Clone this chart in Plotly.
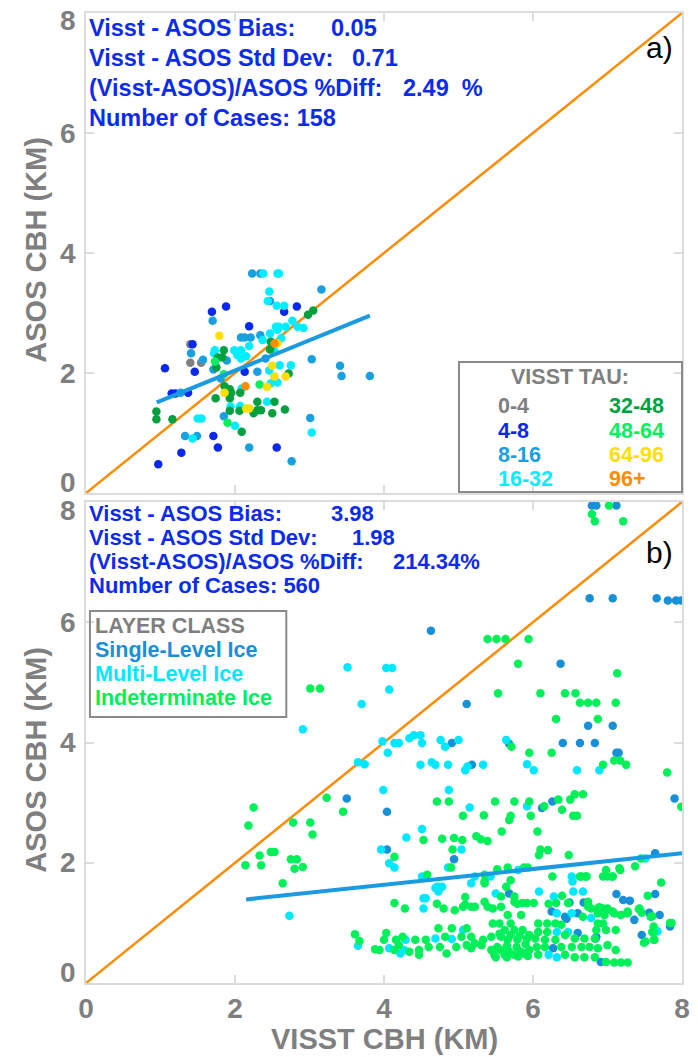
import plotly.graph_objects as go

# ---------------- Panel a data (VISST TAU classes) ----------------
tau_labels = ["0-4", "4-8", "8-16", "16-32", "32-48", "48-64", "64-96", "96+"]
tau_colors = ["#808080", "#0A28EE", "#18A0E0", "#00EEFF", "#00A040", "#00F060", "#FFDF00", "#FF8C00"]

a_x_0_4 = [1.40, 1.40, 1.545]
a_y_0_4 = [2.48, 2.17, 2.17]
a_x_4_8 = [2.66, 2.83, 1.88, 1.69, 2.19, 1.43, 1.46, 1.06, 2.13, 1.15, 1.20, 1.37, 1.71, 1.77, 1.28, 0.97, 2.56]
a_y_4_8 = [3.02, 3.11, 3.11, 3.02, 2.78, 2.48, 2.02, 2.08, 2.02, 1.66, 1.66, 1.67, 0.95, 0.76, 0.67, 0.48, 0.76]
a_x_8_16 = [2.23, 2.34, 3.16, 2.47, 1.70, 2.08, 2.13, 2.21, 2.34, 1.41, 1.57, 2.41, 1.71, 1.89, 1.81, 2.30,
            1.27, 1.85, 1.33, 1.49, 2.19, 2.76, 3.01, 3.03, 3.41, 3.43, 3.81]
a_y_8_16 = [3.66, 3.66, 3.39, 3.20, 2.87, 2.59, 2.59, 2.59, 2.63, 2.33, 2.22, 2.24, 2.06, 2.21, 1.91, 2.02,
            1.67, 1.28, 0.95, 0.95, 0.76, 0.53, 1.25, 2.23, 2.12, 1.95, 1.95]
a_x_16_32 = [2.38, 2.57, 2.59, 2.46, 2.44, 2.56, 2.66, 2.47, 2.55, 2.59, 2.68, 2.77, 2.84, 2.92, 2.57, 2.62,
             2.37, 2.53, 2.19, 1.99, 2.08, 2.03, 2.08, 2.15, 1.73, 1.72, 2.60, 2.75, 2.46, 2.57, 2.48, 2.09,
             2.43, 1.94, 2.07, 1.50, 1.55, 2.00, 1.43, 3.03]
a_y_16_32 = [3.66, 3.66, 3.66, 3.36, 3.20, 3.12, 3.12, 2.66, 2.77, 2.77, 2.77, 2.87, 2.77, 2.75, 2.72, 2.58,
             2.55, 2.36, 2.45, 2.38, 2.38, 2.30, 2.24, 2.28, 2.38, 2.33, 2.13, 2.13, 2.04, 1.84, 1.83, 1.74,
             1.52, 1.44, 1.45, 1.24, 1.24, 1.12, 0.91, 1.01]
a_x_32_48 = [2.98, 3.05, 2.48, 2.47, 1.85, 1.83, 1.77, 1.75, 2.72, 1.86, 1.93, 1.95, 2.07, 1.74, 1.93, 2.30,
             2.53, 1.93, 2.06, 2.30, 2.35, 2.25, 2.50, 2.67, 0.945, 0.945, 1.16, 2.09]
a_y_32_48 = [2.97, 3.04, 2.52, 2.39, 2.38, 2.26, 2.26, 2.09, 1.99, 1.78, 1.73, 1.67, 1.67, 1.58, 1.58, 1.52,
             1.52, 1.37, 1.37, 1.38, 1.38, 1.33, 1.33, 1.39, 1.36, 1.23, 1.23, 1.02]
a_x_48_64 = [1.73, 1.85, 2.33, 1.90]
a_y_48_64 = [2.19, 1.98, 1.81, 1.17]
a_x_64_96 = [1.79, 2.57, 2.50, 2.53, 2.68, 2.43, 1.86, 2.15, 2.19]
a_y_64_96 = [2.62, 2.49, 2.12, 1.94, 1.94, 1.77, 1.67, 1.41, 1.41]
a_x_96p = [2.53, 2.14]
a_y_96p = [2.49, 1.78]

fit_a_x = [0.95, 3.81]
fit_a_y = [1.51, 2.955]

stats_a_values = ["0.05", "0.71", "2.49  %", "158"]

# ---------------- Panel b data (LAYER CLASS) ----------------
layer_labels = ["Single-Level Ice", "Multi-Level Ice", "Indeterminate Ice"]
layer_colors = ["#1890D8", "#00E8FF", "#00F05A"]

b_x_single = [3.50, 6.79, 6.85, 7.12, 6.76, 7.07, 7.66, 7.81, 7.92, 7.99, 4.63, 6.37, 5.11, 6.74, 7.07,
              4.91, 5.68, 6.40, 6.63, 6.83, 7.12, 7.15, 5.18, 7.90, 4.04,
              6.12, 6.26, 4.04, 4.94, 5.68, 7.64, 6.49, 6.68, 7.12, 7.21, 7.30, 7.64, 7.56, 7.70, 7.84, 7.46,
              6.25, 6.43, 6.60, 7.36, 6.60, 6.85, 6.27, 6.91, 6.84, 6.45]
b_y_single = [3.07, 7.94, 7.94, 7.94, 6.40, 6.40, 6.40, 6.36, 6.36, 6.36, 5.86, 5.31, 4.64, 4.28, 4.28,
              3.99, 3.98, 3.99, 3.99, 3.99, 3.83, 3.83, 3.63, 3.07, 2.85,
              2.91, 3.02, 2.22, 2.06, 1.49, 2.16, 1.34, 1.34, 1.48, 1.38, 1.37, 1.48, 1.17, 1.13, 0.94, 0.80,
              1.19, 1.10, 1.16, 1.05, 0.83, 0.77, 0.58, 0.35, 0.74, 1.07]

b_x_multi = [3.51, 3.70, 2.91, 3.65, 3.74, 2.73, 3.65,
             4.03, 4.11, 4.07, 4.34, 4.40, 4.49,
             3.98, 4.14, 4.20, 4.51, 4.76, 4.82, 5.00, 5.64, 5.92, 6.01, 4.05, 4.49, 4.64, 4.69, 4.86, 5.09,
             5.12, 5.33, 3.99, 4.87, 6.89, 6.59,
             5.15, 5.92, 4.51, 4.30, 5.04, 3.96, 4.07, 4.14, 4.86, 5.80, 7.51, 4.51, 5.22, 5.43, 5.17, 4.73,
             4.69, 4.73, 5.50, 6.08, 6.52, 6.53, 6.54, 6.67, 6.28, 4.53, 4.56, 4.53, 7.67,
             4.71, 4.78, 5.06, 4.29, 4.69, 4.91, 4.07, 4.27, 4.22,
             6.32, 6.52, 6.78, 6.32, 6.47, 6.21, 6.32]
b_y_multi = [5.25, 4.64, 4.22, 3.67, 3.64, 1.12, 0.62,
             5.24, 5.24, 4.88, 4.07, 4.12, 4.12,
             4.02, 3.99, 3.99, 3.99, 4.04, 3.93, 4.04, 4.04, 3.64, 3.54, 3.83, 3.63, 3.67, 3.63, 3.63, 3.54,
             3.60, 3.63, 3.21, 3.21, 3.54, 3.54,
             2.92, 2.94, 2.56, 2.42, 2.22, 2.22, 1.99, 1.92, 1.92, 1.88, 2.07, 1.77, 1.77, 1.77, 1.66, 1.60,
             1.58, 1.52, 1.49, 1.52, 1.77, 1.69, 1.52, 1.52, 1.44, 1.41, 1.41, 1.24, 0.86,
             1.60, 1.60, 0.88, 0.72, 0.74, 0.73, 0.58, 0.55, 0.49,
             1.16, 1.16, 1.08, 0.85, 0.85, 0.47, 0.43]

b_x_indet = [3.01, 3.14, 3.23, 3.45, 2.25, 2.18, 2.78, 3.01, 3.04, 2.33, 2.48, 2.53, 2.75, 2.83, 2.80, 2.91,
             2.14, 2.35, 2.64, 3.61, 3.67, 3.88,
             7.02, 6.79, 6.83, 7.21, 5.39, 5.51, 5.63, 5.94, 5.80, 7.13, 5.53, 6.10, 6.43, 6.57, 6.63, 6.74,
             6.85, 7.11, 6.31, 6.87,
             5.71, 5.95, 6.25, 7.09, 7.17, 7.25, 6.94, 7.80, 7.99,
             4.71, 4.87, 5.06, 5.34, 5.49, 5.75, 5.95, 5.97, 6.15, 6.34, 6.39, 6.50, 6.54, 6.59, 6.56, 6.67,
             5.70, 5.68, 5.58, 6.06, 4.53, 4.78, 4.94, 5.05, 5.24, 5.30, 5.39, 4.92, 6.10, 6.20, 6.08, 6.48,
             4.14, 4.90, 5.52, 5.66, 5.88, 5.93, 7.45, 4.58, 5.35, 5.35, 5.64, 5.70, 5.57, 6.26, 6.63, 6.72,
             6.94, 7.06, 6.98, 7.16, 7.37, 7.54, 7.72, 6.39, 4.14, 4.28, 4.71, 4.80, 4.95, 5.09, 5.22, 5.35,
             5.39, 5.46, 5.57, 5.75, 5.79, 5.92, 6.01, 6.21, 6.31, 6.74, 6.89, 6.98, 7.07, 7.27, 7.43, 7.46,
             7.60, 7.86, 7.62, 7.51, 7.63,
             5.35, 5.09, 5.06, 5.17, 5.75, 5.86,
             5.66, 5.84, 5.46, 5.55, 5.70, 5.62, 5.75, 5.86, 4.73, 4.91, 5.11, 4.82, 4.03, 4.00, 4.16, 4.25,
             4.42, 4.56, 5.04, 5.17, 5.22, 5.33, 5.44, 5.57, 5.66, 5.79, 5.92, 3.94, 4.14, 4.20, 4.34, 4.47,
             4.60, 4.47, 4.75, 4.84, 4.97, 5.11, 5.17, 5.31, 5.44, 5.57, 5.68, 5.84, 5.95, 5.48, 5.62, 5.75,
             5.88,
             6.65, 6.71, 7.00, 7.07, 7.17, 6.47, 6.74, 6.78, 6.87, 6.94, 7.00, 6.67, 6.87, 6.96, 7.09, 7.18,
             7.27, 7.42, 7.58, 7.84, 6.07, 6.19, 6.30, 6.38, 6.87, 6.94, 7.11, 7.62, 7.60, 7.49, 7.62, 6.07,
             6.19, 6.43, 6.56, 6.69, 6.83, 6.85, 6.98, 7.00, 7.11, 6.03, 6.16, 6.30, 6.05, 6.16, 6.38, 6.52,
             6.65, 6.76, 6.87, 6.07, 6.43, 6.56, 6.69, 6.83, 6.98, 7.09, 7.18, 7.27,
             5.52, 5.65, 5.78, 5.90, 5.55, 5.70, 5.82, 5.95, 5.50, 5.65, 5.80, 5.93]
b_y_indet = [4.90, 4.90, 3.08, 2.85, 2.92, 2.62, 2.67, 2.67, 2.47, 2.12, 2.18, 2.18, 2.06, 2.06, 1.90, 1.93,
             1.96, 1.96, 1.66, 0.81, 0.70, 0.56,
             7.94, 7.80, 7.68, 7.68, 5.72, 5.72, 5.72, 5.72, 5.31, 5.15, 4.82, 4.82, 4.82, 4.82, 4.66, 4.66,
             4.66, 4.66, 4.39, 4.39,
             3.93, 3.83, 3.83, 3.70, 3.70, 3.63, 3.63, 3.50, 2.93,
             3.02, 3.02, 2.78, 2.79, 3.02, 3.02, 3.02, 2.78, 2.94, 3.05, 2.88, 3.05, 2.78, 2.78, 3.14, 3.14,
             2.78, 2.71, 2.52, 2.52, 2.38, 2.40, 2.41, 2.38, 2.44, 2.39, 2.36, 2.22, 2.22, 2.21, 2.13, 2.13,
             2.10, 1.92, 1.89, 1.92, 1.92, 1.92, 2.07, 1.80, 1.80, 1.69, 1.60, 1.71, 1.44, 1.77, 1.77, 1.77,
             1.77, 1.77, 1.88, 1.91, 1.94, 1.45, 1.67, 1.45, 1.33, 1.24, 1.32, 1.24, 1.21, 1.30, 1.27, 1.35,
             1.27, 1.24, 1.27, 1.44, 1.32, 1.33, 1.33, 1.32, 1.33, 1.27, 1.26, 1.21, 1.19, 1.19, 1.24, 1.17,
             1.11, 1.00, 0.85, 0.69, 0.72,
             1.66, 1.43, 1.27, 1.27, 1.35, 1.33,
             1.13, 1.13, 0.99, 0.99, 0.99, 0.88, 0.88, 0.88, 0.91, 0.91, 0.91, 0.77, 0.83, 0.72, 0.72, 0.77,
             0.72, 0.72, 0.77, 0.77, 0.66, 0.72, 0.77, 0.77, 0.72, 0.72, 0.74, 0.55, 0.55, 0.63, 0.52, 0.55,
             0.60, 0.47, 0.60, 0.49, 0.60, 0.63, 0.58, 0.63, 0.55, 0.55, 0.52, 0.52, 0.55, 0.47, 0.47, 0.47,
             0.49,
             1.77, 1.77, 1.77, 1.77, 1.88, 1.33, 1.35, 1.24, 1.24, 1.24, 1.24, 1.10, 1.16, 1.13, 1.16, 1.13,
             1.16, 1.23, 1.10, 1.00, 0.99, 0.99, 0.99, 0.97, 0.99, 0.99, 0.88, 0.94, 0.85, 0.67, 0.72, 0.85,
             0.85, 0.80, 0.74, 0.74, 0.74, 0.88, 0.88, 0.63, 0.55, 0.74, 0.72, 0.72, 0.60, 0.60, 0.60, 0.60,
             0.60, 0.60, 0.58, 0.47, 0.47, 0.43, 0.43, 0.43, 0.35, 0.34, 0.34, 0.34,
             0.60, 0.62, 0.60, 0.65, 0.82, 0.80, 0.78, 0.80, 0.43, 0.43, 0.44, 0.45]

fit_b_x = [2.15, 8.0]
fit_b_y = [1.39, 2.16]

stats_b_values = ["3.98", "1.98", "214.34%", "560"]

one_to_one = [0, 8]
tick_vals = [0, 2, 4, 6, 8]
tick_text = ["0", "2", "4", "6", "8"]

# ---------------- Figure ----------------
W, H = 698, 1057
ML, MR, MT, MB = 86, 8, 13, 74
PW, PH = W - ML - MR, H - MT - MB


def px(x):
    return (x - ML) / PW


def py(y):
    return (H - MB - y) / PH


fig = go.Figure()
ORANGE = "#FF8C00"
FITBLUE = "#1A9AE0"
MS = 8.5

# Panel a
fig.add_trace(go.Scatter(x=one_to_one, y=one_to_one, mode="lines", line=dict(color=ORANGE, width=2.5),
                         xaxis="x", yaxis="y", showlegend=False, hoverinfo="skip"))
a_series = [(a_x_0_4, a_y_0_4), (a_x_4_8, a_y_4_8), (a_x_8_16, a_y_8_16), (a_x_16_32, a_y_16_32),
            (a_x_32_48, a_y_32_48), (a_x_48_64, a_y_48_64), (a_x_64_96, a_y_64_96), (a_x_96p, a_y_96p)]
for (xs, ys), lab, col in zip(a_series, tau_labels, tau_colors):
    fig.add_trace(go.Scatter(x=xs, y=ys, mode="markers", name=lab,
                             marker=dict(color=col, size=MS, line=dict(width=0)),
                             xaxis="x", yaxis="y", showlegend=False))
fig.add_trace(go.Scatter(x=fit_a_x, y=fit_a_y, mode="lines", line=dict(color=FITBLUE, width=4),
                         xaxis="x", yaxis="y", showlegend=False, hoverinfo="skip"))

# Panel b
fig.add_trace(go.Scatter(x=one_to_one, y=one_to_one, mode="lines", line=dict(color=ORANGE, width=2.5),
                         xaxis="x2", yaxis="y2", showlegend=False, hoverinfo="skip"))
b_series = [(b_x_single, b_y_single), (b_x_multi, b_y_multi), (b_x_indet, b_y_indet)]
for (xs, ys), lab, col in zip(b_series, layer_labels, layer_colors):
    fig.add_trace(go.Scatter(x=xs, y=ys, mode="markers", name=lab,
                             marker=dict(color=col, size=MS, line=dict(width=0)),
                             xaxis="x2", yaxis="y2", showlegend=False))
fig.add_trace(go.Scatter(x=fit_b_x, y=fit_b_y, mode="lines", line=dict(color=FITBLUE, width=4),
                         xaxis="x2", yaxis="y2", showlegend=False, hoverinfo="skip"))

AXC = "#dcdcdc"
FAM = "Liberation Sans, Arial, sans-serif"
TICKFONT = dict(family=FAM, size=28, color="#7f7f7f", weight="bold")
common = dict(range=[0, 8], tickvals=tick_vals, ticktext=tick_text, showgrid=False, zeroline=False,
              showline=True, mirror="ticks", linecolor=AXC, linewidth=1.5, ticks="inside", ticklen=8,
              tickcolor=AXC, tickwidth=1.5, tickfont=TICKFONT, fixedrange=True)

a_bottom = py(493)
b_top = py(502)
fig.update_layout(
    width=W, height=H, margin=dict(l=ML, r=MR, t=MT, b=MB),
    paper_bgcolor="white", plot_bgcolor="white", showlegend=False,
    xaxis=dict(domain=[0, 1], anchor="y", showticklabels=False, **common),
    yaxis=dict(domain=[a_bottom, 1], anchor="x", showticklabels=False, **common),
    xaxis2=dict(domain=[0, 1], anchor="y2", ticklabelstandoff=0, **common),
    yaxis2=dict(domain=[0, b_top], anchor="x2", showticklabels=False, **common),
)

ann = []
BLUE = "#0B2BEE"
SF = dict(family=FAM, size=23.5, color=BLUE, weight="bold")


def text(x, y, s, font, xanchor="left", **kw):
    ann.append(dict(x=px(x), y=py(y), xref="paper", yref="paper", text=s, showarrow=False,
                    xanchor=xanchor, yanchor="middle", font=font, **kw))


# y tick labels (placed on the axis scale, end labels nudged inward as in the original)
shift_a = {0: 11, 8: -7}
shift_b = {0: 11, 8: -8}
for yref, shifts in (("y", shift_a), ("y2", shift_b)):
    for v, t in zip(tick_vals, tick_text):
        ann.append(dict(x=px(78), xref="paper", y=v, yref=yref, text=t, showarrow=False,
                        xanchor="right", yanchor="middle", yshift=shifts.get(v, 0), font=TICKFONT))

stat_labels = ["Visst - ASOS Bias:", "Visst - ASOS Std Dev:", "(Visst-ASOS)/ASOS %Diff:", "Number of Cases:"]
# panel a stats
a_rows = [28, 58, 88, 118]
a_valx = [332, 354, 405, 295]
for i in range(3):
    text(87, a_rows[i], stat_labels[i], SF)
    text(a_valx[i], a_rows[i], stats_a_values[i], SF)
text(87, a_rows[3], stat_labels[3] + " " + stats_a_values[3], SF)

# panel b stats
b_rows = [513, 537, 561, 585]
b_valx = [332, 354, 395, 295]
SFb = dict(SF, size=22)
for i in range(3):
    text(87, b_rows[i], stat_labels[i], SFb)
    text(b_valx[i], b_rows[i], stats_b_values[i], SFb)
text(87, b_rows[3], stat_labels[3] + " " + stats_b_values[3], SFb)

PF = dict(family=FAM, size=30, color="black")
text(667, 48, "a)", PF, xanchor="center")
text(667, 552, "b)", PF, xanchor="center")

# Axis titles
TF = dict(family=FAM, size=29, color="#7f7f7f", weight="bold")
text(389, 1039, "VISST CBH (KM)", TF, xanchor="center")
text(35, 250, "ASOS CBH (KM)", TF, xanchor="center", textangle=-90)
text(35, 760, "ASOS CBH (KM)", TF, xanchor="center", textangle=-90)

# Legend a
LF = 21.5
text(577, 377, "VISST TAU:", dict(family=FAM, size=LF, color="#7f7f7f", weight="bold"), xanchor="center")
leg_rows = [406, 431, 455, 479]
for i in range(4):
    text(501, leg_rows[i], tau_labels[i], dict(family=FAM, size=LF, color=tau_colors[i], weight="bold"))
    text(614, leg_rows[i], tau_labels[i + 4], dict(family=FAM, size=LF, color=tau_colors[i + 4], weight="bold"))

# Legend b
LBF = 21.5
text(93, 626, "LAYER CLASS", dict(family=FAM, size=LBF, color="#7f7f7f", weight="bold"))
for i, r in enumerate([650, 674, 698]):
    text(93, r, layer_labels[i], dict(family=FAM, size=LBF, color=layer_colors[i], weight="bold"))

shapes = [
    dict(type="rect", xref="paper", yref="paper", x0=px(464), x1=px(690), y0=py(492), y1=py(362),
         line=dict(color="#8a8a8a", width=2), fillcolor="rgba(255,255,255,0)", layer="above"),
    dict(type="rect", xref="paper", yref="paper", x0=px(90), x1=px(289), y0=py(717), y1=py(611),
         line=dict(color="#8a8a8a", width=2), fillcolor="rgba(255,255,255,0)", layer="above"),
]
fig.update_layout(annotations=ann, shapes=shapes)

fig.write_html("out.html")
